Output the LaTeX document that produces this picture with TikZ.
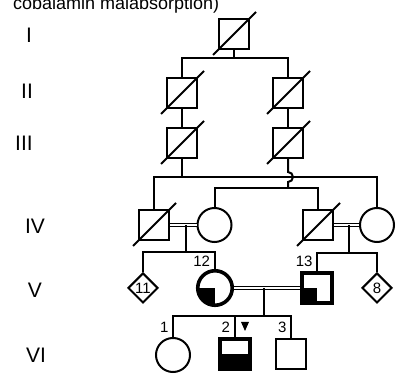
\documentclass[tikz,border=0pt]{standalone}
\usepackage{fontspec}
\setmainfont{Liberation Sans}
\usetikzlibrary{shapes.geometric}
\newcommand\deceased[1]{\draw ([shift={(-21,21)}]#1.center) -- ([shift={(22,-22)}]#1.center);}
\begin{document}
\begin{tikzpicture}[x=1pt,y=-1pt,
  line width=2pt,
  male/.style={draw,rectangle,minimum size=30pt,inner sep=0pt},
  female/.style={draw,circle,minimum size=34pt,inner sep=0pt},
  unknown/.style={draw,diamond,minimum width=30pt,minimum height=30pt,inner sep=0pt,
    font=\fontsize{15}{15}\selectfont},
  affected/.style={line width=3.6pt},
  gen/.style={inner sep=0pt,font=\fontsize{21}{21}\selectfont},
  idlabel/.style={anchor=base east,inner sep=0pt,font=\fontsize{15}{15}\selectfont},
  marriage/.style={double,double distance=1.6pt,line width=1.5pt},
]
\useasboundingbox (0,0) rectangle (400,377);

% heading (continues above the page)
\node[anchor=base west,inner sep=0pt,font=\fontsize{18}{18}\selectfont] (title) at (12,9.5) {cobalamin malabsorption)};

% generation numerals
\node[gen] (gI)   at (29,35.5) {I};
\node[gen] (gII)  at (27,91.5) {II};
\node[gen] (gIII) at (24,143)  {III};
\node[gen] (gIV)  at (35,226)  {IV};
\node[gen] (gV)   at (35,290)  {V};
\node[gen] (gVI)  at (36,355)  {VI};

% individuals
\node[male] (I1) at (234,34) {};
\node[male] (II1) at (182,93) {};
\node[male] (II2) at (288,93) {};
\node[male] (III1) at (182,143) {};
\node[male] (III2) at (288,143) {};
\node[male] (IV1) at (154,225) {};
\node[female] (IV2) at (214.5,225) {};
\node[male] (IV3) at (318,225) {};
\node[female] (IV4) at (377,225) {};
\node[unknown] (V11) at (143,288) {11};
\node[female,affected,minimum size=34.5pt] (V12) at (215,288) {};
\node[male,affected] (V13) at (317,288) {};
\node[unknown] (V8) at (377,288) {8};
\node[female] (VI1) at (173,355) {};
\node[male,affected] (VI2) at (235,354) {};
\node[male] (VI3) at (291,354) {};

% partial shading
\begin{scope}
  \clip (V12.center) circle[radius=17.25pt];
  \fill (V12.center) rectangle ++(-20,20);
\end{scope}
\fill (V13.center) rectangle (V13.south west);
\fill (VI2.west) rectangle (VI2.south east);

% deceased
\deceased{I1}
\deceased{II1}
\deceased{II2}
\deceased{III1}
\deceased{III2}
\deceased{IV1}
\deceased{IV3}

% generation I -> II
\coordinate (sI) at (234,58);
\draw (I1.south) -- (sI);
\draw (II1.north) |- (sI) -| (II2.north);

% II -> III
\draw (II1) -- (III1);
\draw (II2) -- (III2);

% III -> IV
\coordinate (sIIIa) at (182,177);
\draw (III1) -- (sIIIa);
\draw (IV1.north) |- (sIIIa) -| (IV4.north);
\coordinate (hopA) at (288,172);
\coordinate (sIIIb) at (288,188);
\draw (III2.south) -- (hopA) arc[start angle=90,end angle=-90,radius=5pt] -- (sIIIb);
\draw (IV2.north) |- (sIIIb) -| (IV3.north);

% IV couples -> V
\draw[marriage] (IV1.east) -- (IV2.west);
\draw[marriage] (IV3.east) -- (IV4.west);
\coordinate (mIVa) at (186,225);
\coordinate (sIVa) at (186,252);
\draw (mIVa) -- (sIVa);
\draw (V11.north) |- (sIVa) -| (V12.north);
\coordinate (mIVb) at (349,225);
\coordinate (sIVb) at (349,253);
\draw (mIVb) -- (sIVb);
\draw (V13.north) |- (sIVb) -| (V8.north);

% V couple -> VI
\draw[marriage] (V12.east) -- (V13.west);
\coordinate (mV) at (264,288);
\coordinate (sV) at (264,316);
\draw (mV) -- (sV);
\draw (VI1.north) |- (sV) -| (VI3.north);
\draw (VI2.north) -- (VI2.north |- sV);

% identifiers
\node[idlabel] (l12) at (211,267) {12};
\node[idlabel] (l13) at (313.5,267) {13};
\node[idlabel] (l1) at (169.5,333) {1};
\node[idlabel] (l2) at (231,333) {2};
\node[idlabel] (l3) at (287.5,333) {3};

% proband marker
\fill (241,322) -- (249,322) -- (245,331) -- cycle;
\end{tikzpicture}
\end{document}
